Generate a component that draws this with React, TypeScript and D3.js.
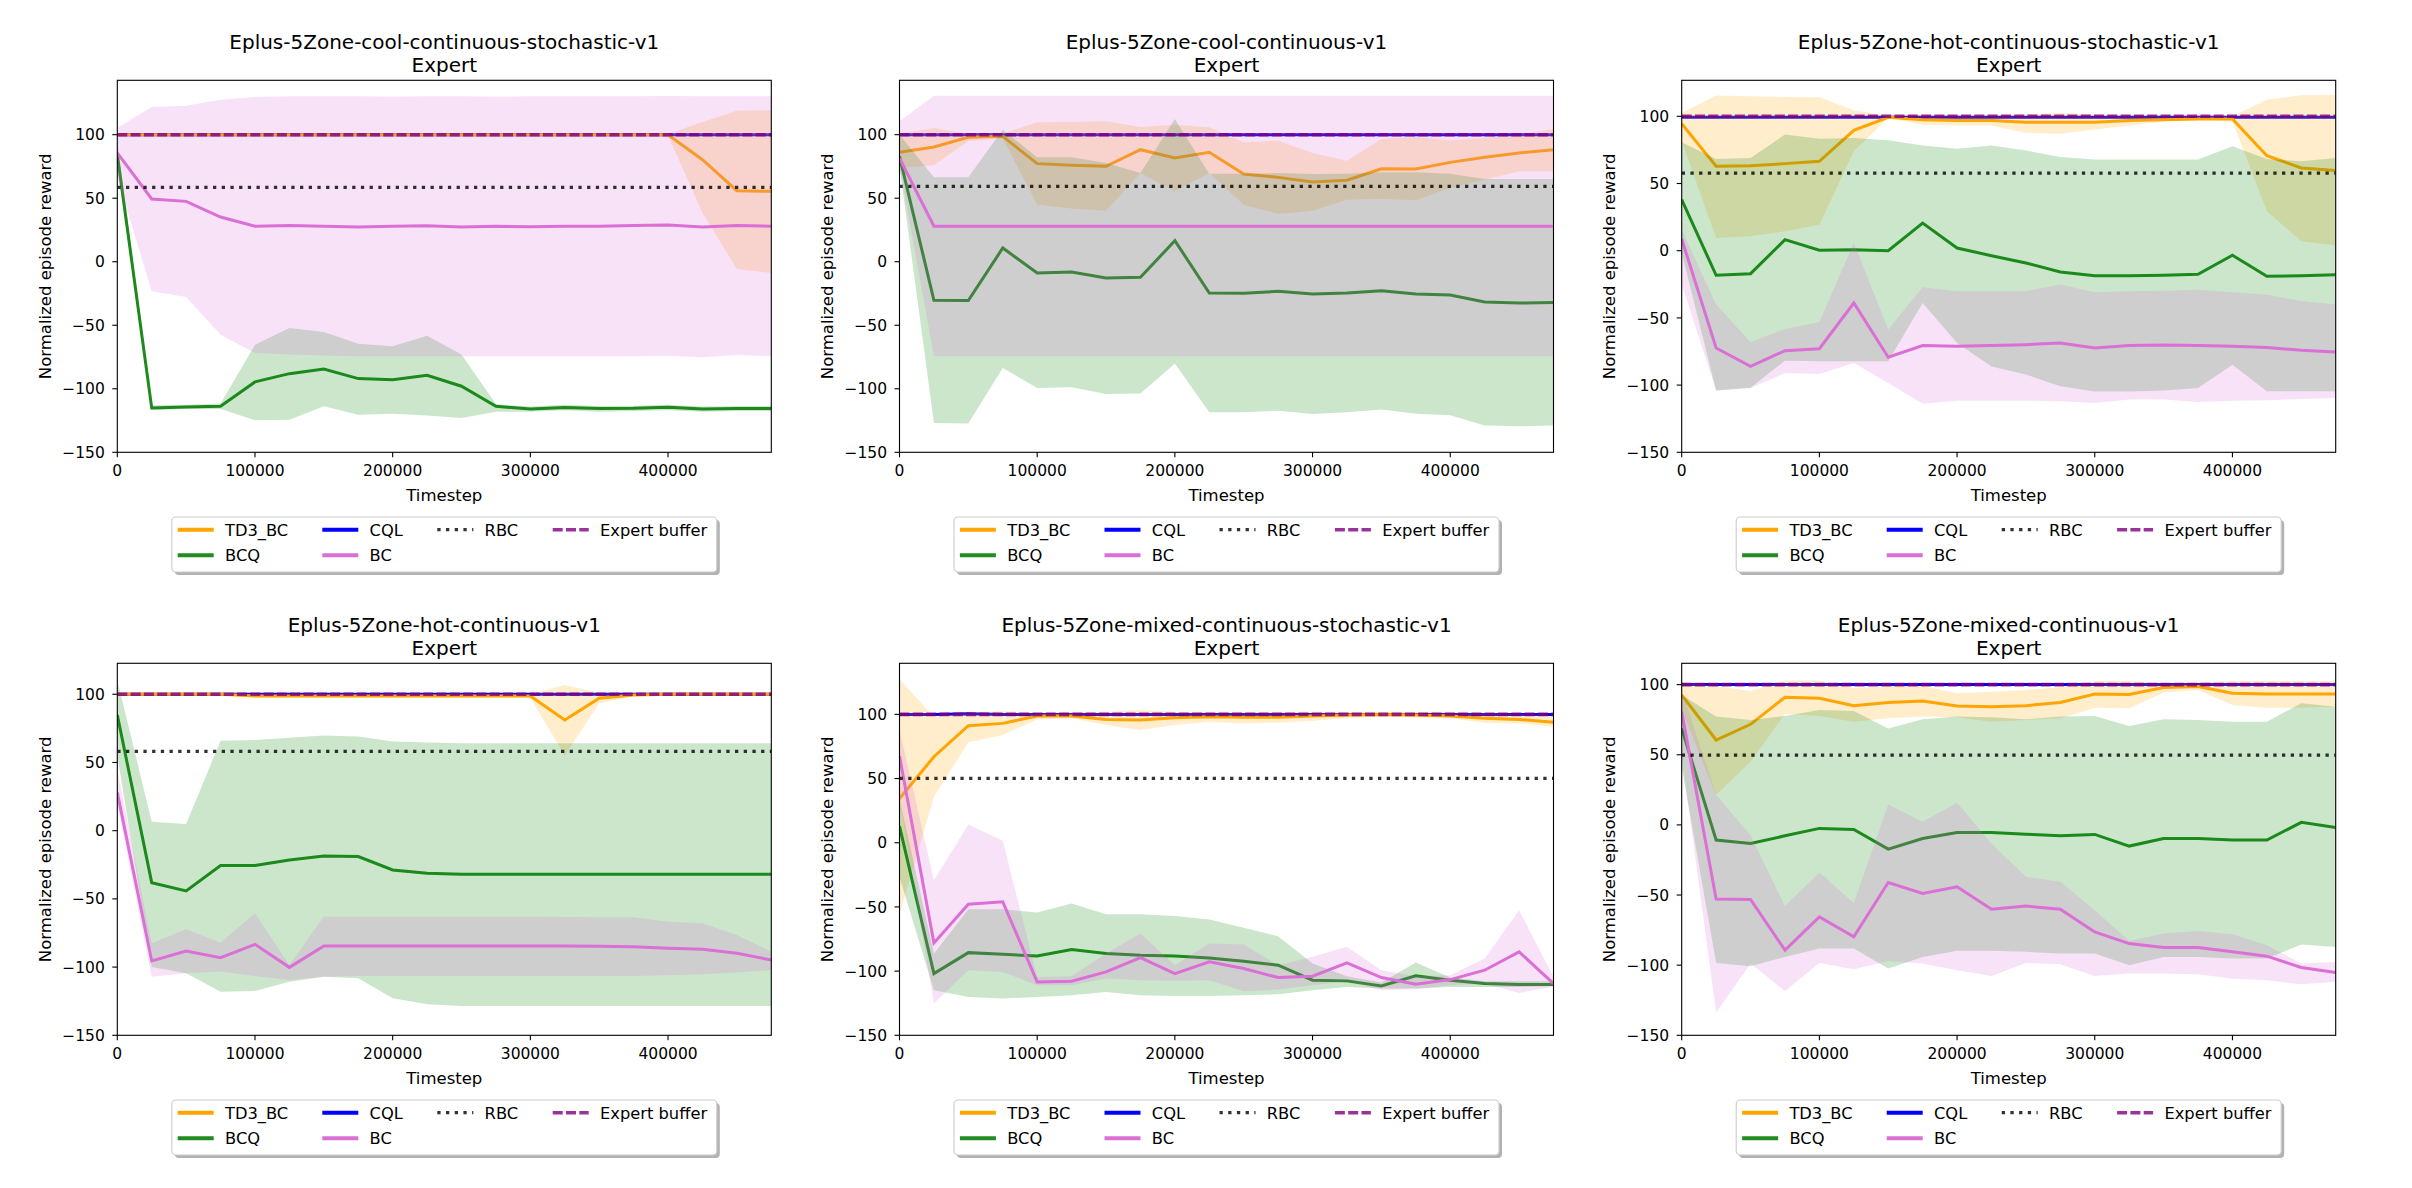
import React from 'react';
import * as d3 from 'd3';

// ---------- data ----------
const timesteps = [0, 25000, 50000, 75000, 100000, 125000, 150000, 175000, 200000, 225000, 250000, 275000, 300000, 325000, 350000, 375000, 400000, 425000, 450000, 475000];
const envNames = [
  'Eplus-5Zone-cool-continuous-stochastic-v1',
  'Eplus-5Zone-cool-continuous-v1',
  'Eplus-5Zone-hot-continuous-stochastic-v1',
  'Eplus-5Zone-hot-continuous-v1',
  'Eplus-5Zone-mixed-continuous-stochastic-v1',
  'Eplus-5Zone-mixed-continuous-v1',
];
const subtitle = 'Expert';
const rbcLevels = [58.6, 59.3, 57.8, 58.2, 50.1, 49.8];
const expertLevels = [100, 100, 100, 100, 100, 100];
const yTops = [142.8, 142.8, 126.8, 122.7, 139.8, 115.2];
const yBottom = -150;
const xMax = 475000;
const xTicks = [0, 100000, 200000, 300000, 400000];
const yTicks = [-150, -100, -50, 0, 50, 100];
const legendLabels = ['TD3_BC', 'BCQ', 'CQL', 'BC', 'RBC', 'Expert buffer'];

// cool-continuous-stochastic
const coolStochTD3 = [100, 100, 100, 100, 100, 100, 100, 100, 100, 100, 100, 100, 100, 100, 100, 100, 100, 80.3, 55.9, 55.4];
const coolStochTD3Lo = [99.5, 99.5, 99.5, 99.5, 99.5, 99.5, 99.5, 99.5, 99.5, 99.5, 99.5, 99.5, 99.5, 99.5, 99.5, 99.5, 99.5, 38.4, -5.7, -8.9];
const coolStochTD3Hi = [100.5, 100.5, 100.5, 100.5, 100.5, 100.5, 100.5, 100.5, 100.5, 100.5, 100.5, 100.5, 100.5, 100.5, 100.5, 100.5, 100.5, 110, 118.9, 119.2];
const coolStochBCQ = [84.3, -115.1, -114.3, -113.8, -94.6, -88.1, -84.4, -92, -92.8, -89.4, -98, -113.8, -115.9, -114.8, -115.6, -115.4, -114.6, -115.9, -115.6, -115.6];
const coolStochBCQLo = [75, -117, -116, -116, -124.8, -124.3, -113.8, -120.4, -119.6, -121.1, -123, -118, -118, -117, -118, -117.5, -117, -118, -117.5, -117.5];
const coolStochBCQHi = [95, -113, -112.5, -111.5, -65.3, -52.2, -55.3, -64.5, -66.6, -58.2, -73.1, -112, -114, -112.5, -113.5, -113.3, -112.5, -114, -113.5, -113.5];
const coolStochBC = [85.6, 49.4, 47.5, 35.2, 27.9, 28.6, 27.9, 27.3, 27.9, 28.4, 27.3, 27.9, 27.6, 27.9, 27.9, 28.6, 28.9, 27.3, 28.6, 27.9];
const coolStochBCLo = [66, -23.3, -27.8, -57.4, -71.8, -73.1, -73.9, -74.4, -74.4, -74.4, -74.4, -74.4, -74.4, -74.4, -74.4, -74.4, -74, -75.2, -73.5, -74.4];
const coolStochBCHi = [105.2, 121.8, 122.8, 127.5, 129.6, 130.2, 130.2, 130.2, 130, 130.2, 130.2, 130, 130.2, 130.2, 130.2, 130.2, 130.5, 130.2, 130.2, 130.2];
const coolStochCQL = [100, 100, 100, 100, 100, 100, 100, 100, 100, 100, 100, 100, 100, 100, 100, 100, 100, 100, 100, 100];

// cool-continuous
const coolTD3 = [86.1, 90.3, 97.9, 98.7, 77.2, 75.9, 75.1, 88.2, 81.6, 86.1, 69, 66.4, 62.7, 64.1, 73.2, 73, 78.2, 82.2, 85.6, 88.2];
const coolTD3Lo = [74, 75.9, 95, 97, 44.9, 41.8, 40.2, 69.8, 55.4, 69.8, 44.9, 37.6, 40.2, 48.8, 49.6, 48.3, 58, 64.6, 71.1, 71.1];
const coolTD3Hi = [101, 105.2, 100.5, 101, 109.7, 110, 110.5, 106, 107.9, 105.8, 94, 95.3, 85.6, 79.5, 96.6, 98.2, 95.5, 97.4, 100, 104.5];
const coolBCQ = [83, -30.4, -30.6, 10.8, -8.9, -8.1, -12.8, -12.3, 16.6, -24.6, -24.9, -23.3, -25.4, -24.6, -22.8, -25.4, -26.2, -31.7, -32.5, -32];
const coolBCQLo = [75, -126.9, -127.4, -83.6, -99.4, -98.8, -104.1, -103.8, -80.2, -118.5, -118.5, -117.2, -119.8, -118.5, -116.4, -119.6, -120.9, -129, -129.5, -129];
const coolBCQHi = [100, 66.4, 66.4, 103.9, 82.2, 82.2, 77.7, 69.8, 112.3, 69.3, 69.3, 69.8, 69, 69.3, 70.4, 70.4, 69.3, 65.1, 65.1, 65.1];
const coolBC = [81.6, 27.9, 27.9, 27.9, 27.9, 27.9, 27.9, 27.9, 27.9, 27.9, 27.9, 27.9, 27.9, 27.9, 27.9, 27.9, 27.9, 27.9, 27.9, 27.9];
const coolBCLo = [75, -74.4, -74.4, -74.4, -74.4, -74.4, -74.4, -74.4, -74.4, -74.4, -74.4, -74.4, -74.4, -74.4, -74.4, -74.4, -74.4, -74.4, -74.4, -74.4];
const coolBCHi = [110.5, 130.7, 130.7, 130.7, 130.7, 130.7, 130.7, 130.7, 130.7, 130.7, 130.7, 130.7, 130.7, 130.7, 130.7, 130.7, 130.7, 130.7, 130.7, 130.7];
const coolCQL = [100, 100, 100, 100, 100, 100, 100, 100, 100, 100, 100, 100, 100, 100, 100, 100, 100, 100, 100, 100];

// hot-continuous-stochastic
const hotStochTD3 = [94.5, 62.8, 63.3, 64.8, 66.5, 89.6, 99.3, 97.5, 96.8, 96.8, 95.5, 95.5, 95.5, 96.8, 97.5, 98, 98, 70.7, 61.6, 59.6];
const hotStochTD3Lo = [81.4, 9.5, 10.7, 14.4, 19.4, 74, 98.8, 93.8, 93.1, 93.1, 87.6, 87.1, 90.1, 93.1, 96.3, 98, 96.3, 29.3, 7, 3.8];
const hotStochTD3Hi = [102.5, 115.4, 114.9, 114.4, 114.1, 104.5, 100.5, 101.2, 101, 101, 101.5, 102.5, 101.5, 101, 100.5, 100.5, 100, 112.4, 115.6, 116.1];
const hotStochBCQ = [38, -18.3, -17.1, 8.2, 0.3, 0.8, 0, 20.6, 2, -3.7, -9.1, -15.8, -18.6, -18.6, -18.3, -17.6, -3.4, -19, -18.6, -17.8];
const hotStochBCQLo = [-1.7, -104, -102, -81.8, -82.3, -82.3, -82.3, -38.9, -68.7, -86.1, -92.2, -100.9, -104.8, -104.8, -104.1, -102.1, -84.8, -104.6, -104.6, -104.6];
const hotStochBCQHi = [80.7, 68.3, 69, 86.4, 83.4, 83.9, 82.1, 78.2, 75.9, 78.2, 74.5, 69.7, 67.8, 67.8, 67.8, 67.8, 77.7, 68.3, 66.5, 69];
const hotStochBC = [8.7, -72.4, -86, -74.4, -72.9, -38.9, -79.3, -70.6, -71.1, -70.6, -69.9, -68.7, -72.4, -70.6, -70.1, -70.6, -71.1, -72.1, -74.1, -75.3];
const hotStochBCLo = [-25, -104.1, -102.1, -91, -91.7, -83.5, -98.4, -113.8, -111.6, -111.6, -111.6, -112, -113.3, -110.8, -110.8, -112.5, -111.6, -111.3, -110.3, -109.6];
const hotStochBCHi = [15.7, -40.1, -68.2, -58.2, -53, 5.8, -58.7, -27.2, -30.2, -30.2, -30.2, -25.2, -31, -30.2, -29.7, -29, -31, -32.7, -37.6, -40.1];
const hotStochCQL = [99.3, 99.3, 99.3, 99.3, 99.3, 99.3, 99.3, 99.3, 99.3, 99.3, 99.3, 99.3, 99.3, 99.3, 99.3, 99.3, 99.3, 99.3, 99.3, 99.3];

// hot-continuous
const hotTD3 = [100, 100, 100, 100, 98.8, 98.8, 98.8, 98.8, 98.8, 98.8, 98.8, 98.8, 98.8, 81.2, 97.1, 99.5, 100, 100, 100, 100];
const hotTD3Lo = [99.5, 99.5, 99.5, 99.5, 97.5, 97.5, 97.5, 97.5, 97.5, 97.5, 97.5, 97.5, 97.5, 55, 93.5, 98.5, 99.5, 99.5, 99.5, 99.5];
const hotTD3Hi = [100.5, 100.5, 100.5, 100.5, 100, 100, 100, 100, 100, 100, 100, 100, 100, 106.8, 101, 100.5, 100.5, 100.5, 100.5, 100.5];
const hotBCQ = [84.8, -38.1, -44.2, -25.6, -25.6, -21.5, -18.5, -19, -28.8, -31.2, -32, -32, -32, -32, -32, -32, -32, -32, -32, -32];
const hotBCQLo = [55, -100, -104.5, -118, -117.5, -110.7, -107, -108.2, -122.9, -127.3, -128.5, -128.5, -128.5, -128.5, -128.5, -128.5, -128.5, -128.5, -128.5, -128.5];
const hotBCQHi = [110.5, 6.6, 4.9, 66, 66.5, 68.2, 69.7, 69, 65.3, 64.6, 64.1, 64.1, 64.1, 64.1, 64.1, 64.1, 64.1, 64.1, 64.1, 64.1];
const hotBC = [27.9, -95.5, -88.2, -93.1, -83.3, -100.2, -84.5, -84.5, -84.5, -84.5, -84.5, -84.5, -84.5, -84.5, -84.7, -85, -86.2, -87, -89.9, -94.8];
const hotBCLo = [20, -107, -104.5, -103.3, -106.5, -109.4, -107, -106.5, -106.5, -106.5, -106.5, -106.5, -106.5, -106.5, -106.5, -106.5, -106, -105.3, -104, -102.1];
const hotBCHi = [44.5, -82.6, -72.3, -82.1, -60.6, -98.4, -63, -63, -63, -63, -63, -63, -63, -63.2, -63.5, -63.5, -66.7, -67.9, -76.4, -88.7];
const hotCQL = [100, 100, 100, 100, 100, 100, 100, 100, 100, 100, 100, 100, 100, 100, 100, 100, 100, 100, 100, 100];

// mixed-continuous-stochastic
const mixedStochTD3 = [34.5, 67, 91.2, 93, 98.7, 98.7, 96.1, 95.6, 97.4, 98.2, 97.7, 97.7, 98.7, 99.5, 100, 99.5, 98.7, 96.9, 96.1, 93.8];
const mixedStochTD3Lo = [-55.7, 35.8, 78.2, 83.9, 96.1, 96.9, 91.7, 87.8, 91.7, 94.3, 93, 93.5, 95.1, 96.9, 98.2, 97.5, 96.9, 93.5, 93, 90.4];
const mixedStochTD3Hi = [127.3, 98.2, 101.3, 102.6, 101.3, 102, 102, 103.4, 102, 102, 102, 102, 102, 102, 102, 102, 102, 101, 100.5, 98.7];
const mixedStochBCQ = [12.9, -101.9, -85.6, -86.9, -88.2, -83.2, -86.3, -87.6, -88.2, -89.7, -92.3, -95.4, -107.1, -107.6, -111.5, -103.7, -107.1, -109.7, -110.5, -110.5];
const mixedStochBCQLo = [-26.6, -114.9, -120.1, -121.4, -120.1, -118.8, -116.2, -118.8, -119.3, -119.3, -118.8, -118, -114.9, -112.3, -113.6, -113.6, -112.3, -112.3, -112.3, -111.8];
const mixedStochBCQHi = [34.5, -86.3, -51.8, -51.8, -54.4, -47.3, -55.7, -55.7, -57, -59.8, -66.3, -72.8, -94.1, -104, -108.9, -93.3, -105, -107.9, -107.9, -107.9];
const mixedStochBC = [67.5, -78, -47.9, -46, -108.4, -107.9, -100.6, -89.5, -101.9, -92.8, -98, -105, -104, -93.6, -105, -110.2, -106.6, -99.3, -85, -109.7];
const mixedStochBCLo = [33.7, -125.3, -99.3, -100.6, -111, -111, -105.8, -107.1, -107.6, -107.1, -115.7, -114.4, -111, -107.9, -114.9, -114.1, -111, -109.7, -117, -112];
const mixedStochBCHi = [87.8, -29.2, 14.2, 1.5, -104.5, -104, -86.3, -70.7, -95.4, -78.5, -79.3, -95.4, -88.9, -81.1, -99.3, -104, -103.2, -90.2, -52.5, -104.5];
const mixedStochCQL = [100, 100, 100.5, 100, 100, 100, 100, 100, 100, 100, 100, 100, 100, 100, 100, 100, 100, 100, 100, 100];

// mixed-continuous
const mixedTD3 = [92.6, 60.5, 71.7, 91, 90.2, 85, 87.2, 88.3, 84.8, 84.3, 85, 87.2, 93.3, 92.9, 97.9, 98.6, 93.8, 93.3, 93.3, 93.3];
const mixedTD3Lo = [81.9, 21.3, 45.1, 79.1, 77.6, 73.6, 76, 77.2, 76.7, 73.6, 74.8, 76, 83.6, 83.1, 94.3, 96.2, 85.5, 83.6, 83.6, 84.3];
const mixedTD3Hi = [102.1, 99, 95.5, 102.9, 102.9, 97.4, 99, 99, 93.8, 95, 96.2, 98.1, 102.6, 102.6, 101, 101.5, 102.6, 102.6, 102.6, 102.6];
const mixedBCQ = [68.8, -10.8, -13.2, -7.8, -2.5, -3.2, -17.3, -9.7, -5.4, -5.4, -6.6, -7.8, -6.8, -15.1, -9.7, -9.7, -10.8, -10.8, 1.8, -1.8];
const mixedBCQLo = [41.5, -98.4, -100.8, -94.1, -88.2, -88.2, -102.4, -94.1, -89.8, -89.8, -90.5, -91.7, -91.7, -100, -94.1, -94.1, -95.3, -95.3, -85.3, -87];
const mixedBCQHi = [92.6, 77.2, 74.8, 77.6, 81.9, 81.2, 68.8, 75.3, 77.2, 76.7, 75.3, 77.2, 77.6, 70.5, 75.3, 74.8, 73.6, 73.6, 86.7, 84.3];
const mixedBC = [80.7, -52.9, -53.2, -89.3, -65.6, -79.8, -41.1, -48.9, -44.1, -60.1, -57.9, -60.1, -76.3, -84.6, -87.4, -87.4, -90.5, -93.6, -101.7, -105.3];
const mixedBCLo = [48.6, -133.8, -98.9, -118.4, -98.4, -102.9, -97, -98.9, -103.6, -107.7, -98.4, -99.3, -107.7, -106, -106, -106.5, -109.6, -110.8, -113.6, -111.9];
const mixedBCHi = [96.2, 21.3, -7.3, -57.9, -33.9, -55.6, 14.6, 2.2, 15.8, -13.2, -37, -40.6, -60.8, -82.7, -77.4, -75.6, -77.9, -85.8, -98.9, -97.7];
const mixedCQL = [100, 100, 100, 100, 100, 100, 100, 100, 100, 100, 100, 100, 100, 100, 100, 100, 100, 100, 100, 100];

// ---------- assembled tables ----------
type Band = { mean: number[]; lo?: number[]; hi?: number[] };
type Panel = { td3: Band; bcq: Band; bc: Band; cql: Band };
const panels: Panel[] = [
  { td3: { mean: coolStochTD3, lo: coolStochTD3Lo, hi: coolStochTD3Hi }, bcq: { mean: coolStochBCQ, lo: coolStochBCQLo, hi: coolStochBCQHi }, bc: { mean: coolStochBC, lo: coolStochBCLo, hi: coolStochBCHi }, cql: { mean: coolStochCQL } },
  { td3: { mean: coolTD3, lo: coolTD3Lo, hi: coolTD3Hi }, bcq: { mean: coolBCQ, lo: coolBCQLo, hi: coolBCQHi }, bc: { mean: coolBC, lo: coolBCLo, hi: coolBCHi }, cql: { mean: coolCQL } },
  { td3: { mean: hotStochTD3, lo: hotStochTD3Lo, hi: hotStochTD3Hi }, bcq: { mean: hotStochBCQ, lo: hotStochBCQLo, hi: hotStochBCQHi }, bc: { mean: hotStochBC, lo: hotStochBCLo, hi: hotStochBCHi }, cql: { mean: hotStochCQL } },
  { td3: { mean: hotTD3, lo: hotTD3Lo, hi: hotTD3Hi }, bcq: { mean: hotBCQ, lo: hotBCQLo, hi: hotBCQHi }, bc: { mean: hotBC, lo: hotBCLo, hi: hotBCHi }, cql: { mean: hotCQL } },
  { td3: { mean: mixedStochTD3, lo: mixedStochTD3Lo, hi: mixedStochTD3Hi }, bcq: { mean: mixedStochBCQ, lo: mixedStochBCQLo, hi: mixedStochBCQHi }, bc: { mean: mixedStochBC, lo: mixedStochBCLo, hi: mixedStochBCHi }, cql: { mean: mixedStochCQL } },
  { td3: { mean: mixedTD3, lo: mixedTD3Lo, hi: mixedTD3Hi }, bcq: { mean: mixedBCQ, lo: mixedBCQLo, hi: mixedBCQHi }, bc: { mean: mixedBC, lo: mixedBCLo, hi: mixedBCHi }, cql: { mean: mixedCQL } },
];

// ---------- layout ----------
const W = 2412;
const H = 1188;
const colLeft = [117.3, 899.5, 1681.7];
const rowTop = [80.3, 663.3];
const plotW = 654;
const plotH = 372;
const FONT = '"DejaVu Sans", sans-serif';
const LINE_W = 3;

const COLORS = {
  td3: '#FFA500', td3Band: '#FFA500',
  bcq: '#228B22', bcqBand: '#008000',
  cql: '#0000FF', bc: '#DA70D6', bcBand: '#DA70D6',
  rbc: '#000000', expert: '#800080',
};

const fmtTick = (v: number) => (v < 0 ? '\u2212' + Math.abs(v) : String(v));

function PanelView({ idx }: { idx: number }) {
  const p = panels[idx];
  const left = colLeft[idx % 3];
  const top = rowTop[Math.floor(idx / 3)];
  const right = left + plotW;
  const bottom = top + plotH;
  const cx = left + plotW / 2;
  const x = d3.scaleLinear().domain([0, xMax]).range([left, right]);
  const y = d3.scaleLinear().domain([yBottom, yTops[idx]]).range([bottom, top]);
  const line = d3.line<number>().x((_, i) => x(timesteps[i])).y((d) => y(d));
  const area = (lo: number[], hi: number[]) =>
    d3.area<number>().x((_, i) => x(timesteps[i])).y0((_, i) => y(lo[i])).y1((_, i) => y(hi[i]))(lo) || '';
  const clipId = `clip-${idx}`;

  const legLeft = cx - 272.5;
  const legTop = bottom + 64.7;
  const legW = 545;
  const legH = 55;
  const colX = [5.9, 150.5, 265.5, 380.9];
  const rowY = [12.7, 38.3];
  const entries = [
    { label: legendLabels[0], col: 0, row: 0, stroke: COLORS.td3, dash: undefined as string | undefined, w: 4, op: 1 },
    { label: legendLabels[1], col: 0, row: 1, stroke: COLORS.bcq, dash: undefined, w: 4, op: 1 },
    { label: legendLabels[2], col: 1, row: 0, stroke: COLORS.cql, dash: undefined, w: 4, op: 1 },
    { label: legendLabels[3], col: 1, row: 1, stroke: COLORS.bc, dash: undefined, w: 4, op: 1 },
    { label: legendLabels[4], col: 2, row: 0, stroke: COLORS.rbc, dash: '3.3 5.4', w: 3.3, op: 0.8 },
    { label: legendLabels[5], col: 3, row: 0, stroke: COLORS.expert, dash: '10 3.3', w: 3.6, op: 0.8 },
  ];

  return (
    <g>
      <defs>
        <clipPath id={clipId}>
          <rect x={left} y={top} width={plotW} height={plotH} />
        </clipPath>
      </defs>
      {/* title */}
      <text x={cx} y={top - 31} textAnchor="middle" fontSize={20} fontFamily={FONT} fill="#000">{envNames[idx]}</text>
      <text x={cx} y={top - 8.5} textAnchor="middle" fontSize={20} fontFamily={FONT} fill="#000">{subtitle}</text>

      <g clipPath={`url(#${clipId})`}>
        {/* CQL */}
        <path d={line(p.cql.mean) || ''} fill="none" stroke={COLORS.cql} strokeWidth={LINE_W} />
        {/* TD3_BC */}
        <path d={line(p.td3.mean) || ''} fill="none" stroke={COLORS.td3} strokeWidth={LINE_W} />
        <path d={area(p.td3.lo!, p.td3.hi!)} fill={COLORS.td3Band} fillOpacity={0.2} />
        {/* BCQ */}
        <path d={line(p.bcq.mean) || ''} fill="none" stroke={COLORS.bcq} strokeWidth={LINE_W} />
        <path d={area(p.bcq.lo!, p.bcq.hi!)} fill={COLORS.bcqBand} fillOpacity={0.2} />
        {/* BC */}
        <path d={line(p.bc.mean) || ''} fill="none" stroke={COLORS.bc} strokeWidth={LINE_W} />
        <path d={area(p.bc.lo!, p.bc.hi!)} fill={COLORS.bcBand} fillOpacity={0.2} />
        {/* RBC */}
        <line x1={left} x2={right} y1={y(rbcLevels[idx])} y2={y(rbcLevels[idx])} stroke={COLORS.rbc} strokeOpacity={0.8} strokeWidth={3.3} strokeDasharray="3.3 5.4" />
        {/* Expert buffer */}
        <line x1={left} x2={right} y1={y(expertLevels[idx])} y2={y(expertLevels[idx])} stroke={COLORS.expert} strokeOpacity={0.8} strokeWidth={3.6} strokeDasharray="10 3.3" />
      </g>

      {/* frame */}
      <rect x={left} y={top} width={plotW} height={plotH} fill="none" stroke="#000" strokeWidth={1.1} />

      {/* x ticks */}
      {xTicks.map((t) => (
        <g key={'x' + t}>
          <line x1={x(t)} x2={x(t)} y1={bottom} y2={bottom + 5} stroke="#000" strokeWidth={1.1} />
          <text x={x(t)} y={bottom + 24} textAnchor="middle" fontSize={15.5} fontFamily={FONT} fill="#000">{fmtTick(t)}</text>
        </g>
      ))}
      {/* y ticks */}
      {yTicks.map((t) => (
        <g key={'y' + t}>
          <line x1={left - 5} x2={left} y1={y(t)} y2={y(t)} stroke="#000" strokeWidth={1.1} />
          <text x={left - 12.5} y={y(t) + 5.6} textAnchor="end" fontSize={15.5} fontFamily={FONT} fill="#000">{fmtTick(t)}</text>
        </g>
      ))}
      {/* axis labels */}
      <text x={cx} y={bottom + 48.5} textAnchor="middle" fontSize={16.5} fontFamily={FONT} fill="#000">Timestep</text>
      <text transform={`translate(${left - 66.8},${top + plotH / 2}) rotate(-90)`} textAnchor="middle" fontSize={16.5} fontFamily={FONT} fill="#000">Normalized episode reward</text>

      {/* legend */}
      <rect x={legLeft + 3} y={legTop + 3} width={legW} height={legH} rx={4} fill="#000" fillOpacity={0.3} />
      <rect x={legLeft} y={legTop} width={legW} height={legH} rx={4} fill="#fff" stroke="#cccccc" strokeWidth={1.1} />
      {entries.map((e) => {
        const hx = legLeft + colX[e.col];
        const hy = legTop + rowY[e.row];
        return (
          <g key={e.label}>
            <line x1={hx} x2={hx + 36} y1={hy} y2={hy} stroke={e.stroke} strokeOpacity={e.op} strokeWidth={e.w} strokeDasharray={e.dash} />
            <text x={hx + 47.3} y={hy + 6} fontSize={16.3} fontFamily={FONT} fill="#000">{e.label}</text>
          </g>
        );
      })}
    </g>
  );
}

export default function App() {
  return (
    <svg
      width={W}
      height={H}
      viewBox={`0 0 ${W} ${H}`}
      style={{ position: 'absolute', left: 0, top: 0, background: '#fff' }}
    >
      <rect x={0} y={0} width={W} height={H} fill="#fff" />
      {panels.map((_, i) => (
        <PanelView key={i} idx={i} />
      ))}
    </svg>
  );
}
